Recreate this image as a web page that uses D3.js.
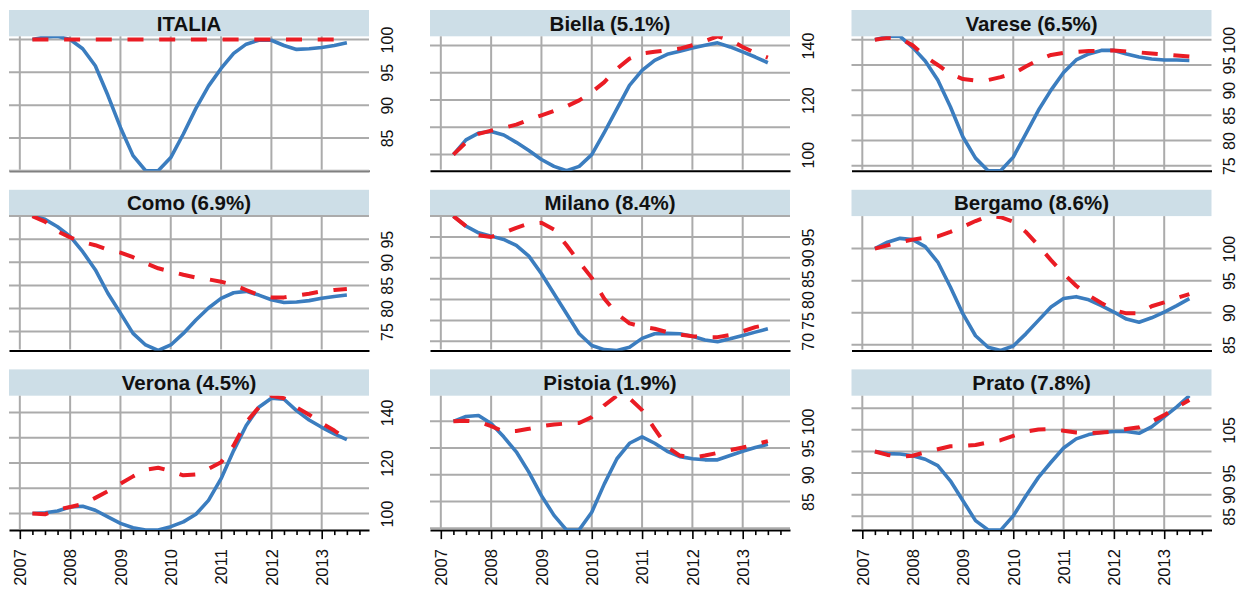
<!DOCTYPE html>
<html>
<head>
<meta charset="utf-8">
<script src="https://cdn.jsdelivr.net/npm/d3@7"></script>
<style>
  html, body { margin: 0; padding: 0; background: #ffffff; }
  svg { display: block; font-family: "Liberation Sans", Arial, Helvetica, sans-serif; }
</style>
</head>
<body>
<svg id="chart" width="1237" height="590"></svg>
<script>
// Quarterly observations, index 2007 = 100
const quarters = [2007.25, 2007.5, 2007.75, 2008, 2008.25, 2008.5, 2008.75, 2009,
  2009.25, 2009.5, 2009.75, 2010, 2010.25, 2010.5, 2010.75, 2011, 2011.25, 2011.5,
  2011.75, 2012, 2012.25, 2012.5, 2012.75, 2013, 2013.25, 2013.5];

const yearTicks = [2007, 2008, 2009, 2010, 2011, 2012, 2013];
const quarterTicks = [2007.25, 2007.5, 2007.75, 2008.25, 2008.5, 2008.75, 2009.25, 2009.5,
  2009.75, 2010.25, 2010.5, 2010.75, 2011.25, 2011.5, 2011.75, 2012.25, 2012.5, 2012.75,
  2013.25, 2013.5, 2013.75];

const panelTitles = ["ITALIA", "Biella (5.1%)", "Varese (6.5%)",
  "Como (6.9%)", "Milano (8.4%)", "Bergamo (8.6%)",
  "Verona (4.5%)", "Pistoia (1.9%)", "Prato (7.8%)"];

const italiaSolid  = [100, 100.4, 100.5, 100.0, 98.6, 96.0, 91.5, 86.6, 82.3, 80.0, 80.0, 82.0, 85.6, 89.5, 92.9, 95.6, 97.9, 99.3, 99.9, 99.9, 99.1, 98.5, 98.6, 98.8, 99.1, 99.5];
const italiaDashed = [100, 100, 100, 100, 100, 100, 100, 100, 100, 100, 100, 100, 100, 100, 100, 100, 100, 100, 100, 100, 100, 100, 100, 100, 100, 100];

const biellaSolid  = [100, 105.4, 107.9, 108.5, 107.2, 104.5, 101.5, 98.2, 95.7, 94.1, 95.7, 100, 108.2, 116.8, 125.4, 130.9, 134.6, 136.8, 137.9, 139.1, 140.1, 141.0, 139.5, 137.7, 135.8, 133.7];
const biellaDashed = [100, 104.5, 107.6, 108.8, 109.8, 111.0, 112.8, 114.4, 116.0, 117.7, 119.9, 122.9, 126.6, 131.5, 135.2, 137.1, 137.7, 138.3, 138.9, 140.1, 141.7, 143.4, 142.0, 139.5, 137.3, 135.6];

const vareseSolid  = [100, 100.7, 100.7, 98.5, 95.8, 92.0, 86.7, 80.7, 76.5, 74.0, 74.0, 76.7, 81.3, 86.0, 90.0, 93.5, 96.0, 97.2, 97.9, 97.9, 97.2, 96.6, 96.2, 96.0, 96.0, 95.9];
const vareseDashed = [100, 100.4, 100.3, 98.9, 96.7, 95.0, 93.2, 92.2, 91.9, 92.0, 92.6, 93.3, 94.7, 96.0, 97.0, 97.4, 97.6, 97.8, 97.8, 97.9, 97.7, 97.5, 97.3, 97.1, 96.9, 96.7];

const comoSolid  = [100, 99.3, 97.7, 95.6, 92.3, 88.4, 83.3, 79.0, 74.6, 72.1, 70.9, 72.1, 74.6, 77.5, 80.1, 82.2, 83.4, 83.7, 82.9, 81.9, 81.3, 81.4, 81.7, 82.2, 82.6, 82.9];
const comoDashed = [100, 98.8, 96.7, 95.4, 94.4, 93.7, 92.7, 92.1, 91.1, 89.8, 88.7, 88.0, 87.3, 86.7, 86.3, 85.8, 85.1, 84.0, 82.9, 82.4, 82.4, 82.8, 83.2, 83.7, 84.0, 84.2];

const milanoSolid  = [100, 97.6, 96.0, 95.2, 94.4, 93.0, 90.4, 86.2, 81.4, 76.6, 71.8, 69.0, 68.0, 67.8, 68.6, 70.7, 71.8, 71.9, 71.8, 71.2, 70.3, 69.9, 70.6, 71.4, 72.2, 73.0];
const milanoDashed = [100, 97.6, 95.4, 95.0, 96.0, 97.2, 98.2, 98.4, 96.8, 93.0, 89.0, 85.2, 80.2, 76.6, 74.3, 73.5, 73.0, 72.2, 71.6, 71.2, 71.0, 71.0, 71.5, 72.4, 73.4, 74.0];

const bergamoSolid  = [100, 101.0, 101.6, 101.4, 100.3, 97.9, 94.0, 89.8, 86.4, 84.6, 84.1, 84.8, 86.7, 88.8, 90.9, 92.2, 92.5, 92.0, 91.1, 90.1, 89.0, 88.5, 89.2, 90.1, 91.1, 92.2];
const bergamoDashed = [100, 100.5, 101.0, 101.4, 101.7, 101.9, 102.6, 103.4, 104.3, 105.07, 104.9, 104.2, 102.6, 100.5, 98.2, 96.1, 94.2, 92.7, 91.5, 90.4, 89.9, 89.9, 91.0, 91.6, 92.3, 92.9];

const veronaSolid  = [100, 100.3, 101.0, 102.6, 102.9, 101.3, 98.7, 96.1, 94.4, 93.5, 93.45, 94.8, 96.7, 99.7, 105.2, 113.8, 124.9, 134.8, 142.0, 145.6, 145.2, 140.7, 137.0, 134.1, 131.5, 129.2];
const veronaDashed = [100, 99.7, 101.6, 102.6, 103.7, 106.2, 108.8, 111.8, 114.7, 117.3, 118.1, 116.8, 115.1, 115.5, 117.7, 120.3, 126.9, 136.1, 142.0, 146.6, 145.6, 142.0, 139.1, 135.7, 132.8, 129.5];

const pistoiaSolid  = [100, 100.9, 101.1, 99.6, 97.1, 94.3, 90.5, 86.1, 82.4, 79.65, 79.7, 83.0, 88.3, 93.0, 95.9, 97.1, 95.9, 94.4, 93.4, 93.0, 92.8, 92.8, 93.6, 94.4, 95.1, 95.7];
const pistoiaDashed = [100, 100.1, 99.9, 99.1, 98.1, 98.2, 98.6, 99.1, 99.4, 99.6, 99.7, 100.8, 103.0, 104.8, 104.3, 102.1, 98.6, 95.2, 93.6, 93.2, 93.6, 94.1, 94.6, 95.1, 95.7, 96.3];

const pratoSolid  = [100, 99.5, 99.4, 99.0, 98.2, 96.7, 93.2, 88.6, 84.0, 81.85, 81.8, 85.1, 89.7, 94.0, 97.5, 100.8, 102.9, 103.9, 104.4, 104.6, 104.6, 104.2, 105.7, 108.0, 110.3, 112.9];
const pratoDashed = [100, 99.2, 98.8, 99.0, 99.8, 100.5, 101.2, 101.3, 101.5, 102.1, 102.6, 103.6, 104.6, 105.1, 105.2, 104.8, 104.4, 104.2, 104.4, 104.6, 105.2, 105.6, 106.9, 108.4, 110.2, 111.9];

const solidSeries  = [italiaSolid, biellaSolid, vareseSolid, comoSolid, milanoSolid, bergamoSolid, veronaSolid, pistoiaSolid, pratoSolid];
const dashedSeries = [italiaDashed, biellaDashed, vareseDashed, comoDashed, milanoDashed, bergamoDashed, veronaDashed, pistoiaDashed, pratoDashed];

// Horizontal reference lines and labelled values on each right-hand axis
const gridValues = [
  [80, 85, 90, 95, 100],
  [100, 110, 120, 130, 140],
  [75, 80, 85, 90, 95, 100],
  [75, 80, 85, 90, 95, 100],
  [70, 75, 80, 85, 90, 95, 100],
  [85, 90, 95, 100],
  [100, 110, 120, 130, 140],
  [80, 85, 90, 95, 100],
  [85, 90, 95, 100, 105, 110]
];
const axisLabels = [
  [85, 90, 95, 100],
  [100, 120, 140],
  [75, 80, 85, 90, 95, 100],
  [75, 80, 85, 90, 95],
  [70, 75, 80, 85, 90, 95],
  [85, 90, 95, 100],
  [100, 120, 140],
  [85, 90, 95, 100],
  [85, 90, 95, 105]
];

// Layout
const colLeft = [9, 430, 851.5];
const panelW = 360;
const plotBottom = [170.7, 350.5, 530.1];
const plotH = 134.4;
const stripH = 26.3;
const stripFill = "#cddee7";
const gridColor = "#ababab";
const solidColor = "#3b7dbf";
const dashedColor = "#ea1c24";

const svg = d3.select("#chart");

const x = d3.scaleLinear().domain([2006.785, 2013.94]).range([0, panelW]);

panelTitles.forEach((title, p) => {
  const row = Math.floor(p / 3), col = p % 3;
  const top = plotBottom[row] - plotH;
  const g = svg.append("g").attr("transform", `translate(${colLeft[col]},${top})`);

  const values = solidSeries[p].concat(dashedSeries[p]);
  const y = d3.scaleLinear().domain(d3.extent(values)).range([plotH, 0]);

  // title strip
  g.append("rect")
    .attr("x", 0).attr("y", -stripH)
    .attr("width", panelW).attr("height", stripH)
    .attr("fill", stripFill);
  g.append("text")
    .attr("x", panelW / 2).attr("y", -stripH / 2)
    .attr("dy", "0.36em")
    .attr("text-anchor", "middle")
    .attr("font-size", 20.5)
    .attr("font-weight", "bold")
    .attr("fill", "#111")
    .text(title);

  // bottom axis line (ticks and year labels on the last row only)
  const xAxisG = g.append("g").attr("transform", `translate(0,${plotH})`);
  if (row === 2) {
    const minor = xAxisG.append("g")
      .call(d3.axisBottom(x).tickValues(quarterTicks).tickSize(5).tickSizeOuter(0).tickFormat(""));
    minor.select(".domain").remove();
    const major = xAxisG.append("g")
      .call(d3.axisBottom(x).tickValues(yearTicks).tickSize(9).tickSizeOuter(0).tickFormat(d3.format("d")));
    major.attr("font-family", null).attr("font-size", 16.5);
    major.selectAll(".tick text")
      .attr("transform", "rotate(-90)")
      .attr("x", -19).attr("y", 0)
      .attr("dy", "0.35em")
      .attr("text-anchor", "end")
      .attr("fill", "#111");
    xAxisG.selectAll(".tick line").attr("stroke", "#000").attr("stroke-width", 1.6);
    xAxisG.selectAll(".domain").attr("stroke", "#000").attr("stroke-width", 2);
  } else {
    const base = xAxisG.append("g")
      .call(d3.axisBottom(x).tickValues([]).tickSizeOuter(0));
    base.select(".domain").attr("stroke", "#000").attr("stroke-width", 2);
  }

  // grid
  const grid = g.append("g").attr("stroke", gridColor).attr("stroke-width", 2);
  grid.selectAll("line.v").data(yearTicks).join("line")
    .attr("class", "v")
    .attr("x1", d => x(d)).attr("x2", d => x(d))
    .attr("y1", 0).attr("y2", plotH - 1);
  grid.selectAll("line.h").data(gridValues[p].filter(v => v >= y.domain()[0] - 1e-9 && v <= y.domain()[1] + 1e-9)).join("line")
    .attr("class", "h")
    .attr("x1", 0).attr("x2", panelW)
    .attr("y1", d => y(d)).attr("y2", d => y(d));

  // right axis labels, rotated
  const yAxisG = g.append("g").attr("transform", `translate(${panelW},0)`)
    .call(d3.axisRight(y).tickValues(axisLabels[p]).tickSize(0).tickFormat(d3.format("d")));
  yAxisG.attr("font-family", null).attr("font-size", 16);
  yAxisG.select(".domain").remove();
  yAxisG.selectAll(".tick text")
    .attr("transform", "rotate(-90)")
    .attr("x", 0).attr("y", 23.5)
    .attr("dy", 0)
    .attr("text-anchor", "middle")
    .attr("fill", "#111");

  // series
  const clipId = `clip-${p}`;
  g.append("clipPath").attr("id", clipId)
    .append("rect").attr("x", 0).attr("y", 0).attr("width", panelW).attr("height", plotH);

  const line = d3.line()
    .x((d, i) => x(quarters[i]))
    .y(d => y(d));

  const series = g.append("g").attr("clip-path", `url(#${clipId})`);
  series.append("path")
    .datum(solidSeries[p])
    .attr("fill", "none")
    .attr("stroke", solidColor)
    .attr("stroke-width", 3.6)
    .attr("stroke-linejoin", "round")
    .attr("d", line);
  series.append("path")
    .datum(dashedSeries[p])
    .attr("fill", "none")
    .attr("stroke", dashedColor)
    .attr("stroke-width", 4)
    .attr("stroke-dasharray", "16,15.7")
    .attr("stroke-linejoin", "round")
    .attr("d", line);
});
</script>
</body>
</html>
